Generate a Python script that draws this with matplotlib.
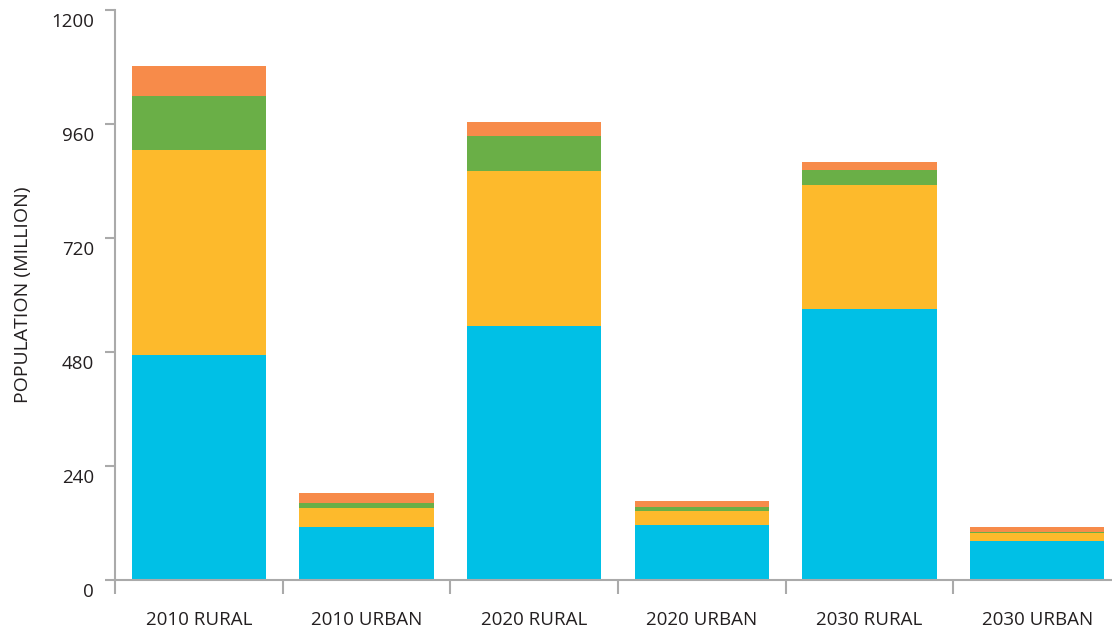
import matplotlib
matplotlib.use("Agg")
import matplotlib.pyplot as plt
import matplotlib.transforms as mtransforms
import numpy as np

categories = ["2010 RURAL", "2010 URBAN", "2020 RURAL", "2020 URBAN", "2030 RURAL", "2030 URBAN"]
blue = [474, 112, 535, 116, 571, 82]
yellow = [431, 40, 326, 29, 261, 17]
green = [114, 10, 74, 9, 31, 2]
orange = [63, 21, 29, 12, 17, 11]
yticks = [0, 240, 480, 720, 960, 1200]

colors = ["#00C0E6", "#FDBA2C", "#6AAF47", "#F78B4A"]
series = [blue, yellow, green, orange]

plt.rcParams['font.family'] = ['Open Sans', 'DejaVu Sans']

fig = plt.figure(figsize=(11.12, 6.31), dpi=100)
W, H = 1112, 631
ax = fig.add_axes([115 / W, 51 / H, (1121 - 115) / W, 570 / H])

x = np.arange(len(categories))
bottom = np.zeros(len(categories))
for vals, c in zip(series, colors):
    ax.bar(x, vals, width=0.8, bottom=bottom, color=c, linewidth=0)
    bottom += np.array(vals)

ax.set_xlim(-0.5, len(categories) - 0.5)
ax.set_ylim(0, 1200)

for s in ["top", "right"]:
    ax.spines[s].set_visible(False)
for s in ["left", "bottom"]:
    ax.spines[s].set_color("#AAAAAA")
    ax.spines[s].set_linewidth(1.5)

ax.set_yticks(yticks)
ax.set_yticklabels([str(v) for v in yticks])
ax.tick_params(axis="y", direction="out", length=7, width=1.5, color="#AAAAAA",
               labelsize=13.5, labelcolor="#231F20", pad=8)
offset = mtransforms.ScaledTranslation(0, -10 / 100, fig.dpi_scale_trans)
for lab in ax.get_yticklabels():
    lab.set_transform(lab.get_transform() + offset)

ax.set_xticks(x)
ax.set_xticklabels(categories)
ax.tick_params(axis="x", which="major", length=0, pad=22, labelsize=13.5, labelcolor="#231F20")
ax.set_xticks(np.arange(-0.5, len(categories)), minor=True)
ax.tick_params(axis="x", which="minor", direction="out", length=10, width=1.5, color="#AAAAAA")

ax.set_ylabel("POPULATION (MILLION)", fontsize=14, color="#231F20", labelpad=14)

fig.savefig("out.png", dpi=100)
